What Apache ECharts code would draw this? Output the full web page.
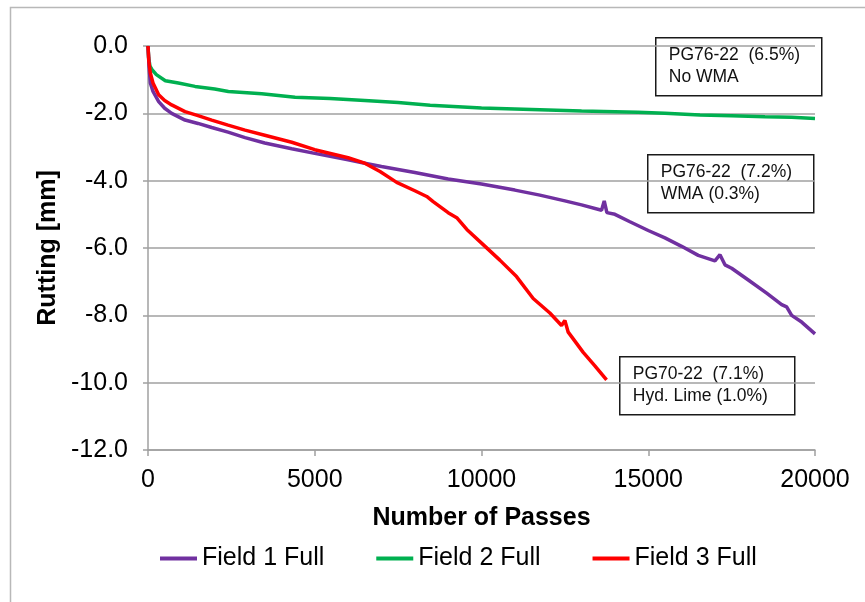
<!DOCTYPE html>
<html>
<head>
<meta charset="utf-8">
<title>Rutting vs Number of Passes</title>
<script src="https://cdn.jsdelivr.net/npm/echarts@6/dist/echarts.min.js"></script>
<style>
  html, body { margin: 0; padding: 0; background: #ffffff; }
  #chart { width: 865px; height: 602px; }
</style>
</head>
<body>
<div id="chart"></div>
<script>
// Rut depth (mm) recorded against wheel passes for three field mixes
const seriesNames = ['Field 1 Full', 'Field 2 Full', 'Field 3 Full'];

const field1Passes = [0, 30, 70, 150, 320, 500, 710, 1110, 1500, 1910, 2400, 2910, 3500, 4310, 5000, 6000, 6500, 7000, 8000, 9000, 10000, 11000, 11750, 12500, 13000, 13600, 13680, 13760, 14000, 14450, 15000, 15500, 16000, 16500, 17000, 17150, 17300, 17500, 18000, 18550, 19000, 19150, 19300, 19600, 20000];
const field1Rut = [0, -0.6, -1.1, -1.35, -1.65, -1.85, -2.0, -2.2, -2.3, -2.42, -2.56, -2.72, -2.88, -3.05, -3.19, -3.38, -3.48, -3.58, -3.76, -3.95, -4.1, -4.28, -4.43, -4.6, -4.72, -4.88, -4.6, -4.95, -5.0, -5.22, -5.48, -5.7, -5.95, -6.22, -6.38, -6.2, -6.5, -6.6, -6.95, -7.34, -7.68, -7.75, -8.0, -8.2, -8.55];

const field2Passes = [0, 20, 60, 120, 250, 520, 910, 1410, 2000, 2410, 3410, 4410, 5460, 6500, 7500, 8460, 10000, 11000, 12000, 13000, 14000, 14690, 15500, 16550, 17500, 18500, 19300, 20000];
const field2Rut = [0, -0.35, -0.6, -0.7, -0.85, -1.03, -1.1, -1.2, -1.28, -1.35, -1.42, -1.52, -1.56, -1.62, -1.68, -1.76, -1.84, -1.87, -1.9, -1.93, -1.95, -1.97, -2.0, -2.05, -2.07, -2.1, -2.12, -2.15];

const field3Passes = [0, 25, 70, 150, 320, 500, 710, 1110, 1500, 1910, 2400, 2910, 3500, 4310, 5000, 6000, 6500, 6957, 7457, 8000, 8357, 8550, 9000, 9257, 9560, 10050, 10550, 11050, 11550, 12050, 12400, 12500, 12600, 13050, 13400, 13750];
const field3Rut = [0, -0.45, -0.8, -1.1, -1.45, -1.62, -1.75, -1.95, -2.07, -2.2, -2.35, -2.5, -2.65, -2.86, -3.08, -3.32, -3.48, -3.73, -4.05, -4.3, -4.47, -4.62, -4.95, -5.1, -5.45, -5.9, -6.36, -6.85, -7.5, -7.93, -8.3, -8.15, -8.5, -9.1, -9.5, -9.92];

// Axis ranges and tick spacing
const xMin = 0, xMax = 20000, xStep = 5000;
const yMin = -12, yMax = 0, yStep = 2;

// Mix descriptions shown in the boxed notes
const noteField2 = ['PG76-22  (6.5%)', 'No WMA'];
const noteField1 = ['PG76-22  (7.2%)', 'WMA (0.3%)'];
const noteField3 = ['PG70-22  (7.1%)', 'Hyd. Lime (1.0%)'];

const colors = ['#7030a0', '#00b050', '#ff0000'];
const font = "'Liberation Sans', Arial, sans-serif";
const axisGray = '#a0a0a0';

function pairs(xs, ys) {
  return xs.map((x, i) => [x, ys[i]]);
}

function note(left, top, width, height, lines) {
  return {
    type: 'group',
    left: left,
    top: top,
    z: 100,
    children: [
      {
        type: 'rect',
        shape: { x: 0, y: 0, width: width, height: height },
        style: { fill: '#ffffff', stroke: '#1a1a1a', lineWidth: 1.5 }
      },
      {
        type: 'text',
        x: 13,
        y: 6,
        style: {
          text: lines.join('\n'),
          fill: '#111111',
          fontFamily: font,
          fontSize: 17.5,
          lineHeight: 22,
          verticalAlign: 'top'
        }
      }
    ]
  };
}

const chart = echarts.init(document.getElementById('chart'), null, { renderer: 'canvas' });

chart.setOption({
  animation: false,
  backgroundColor: '#ffffff',
  grid: { left: 148, right: 50, top: 46, bottom: 152, containLabel: false },
  xAxis: {
    type: 'value',
    min: xMin,
    max: xMax,
    interval: xStep,
    name: 'Number of Passes',
    nameLocation: 'middle',
    nameGap: 56,
    nameTextStyle: { fontFamily: font, fontSize: 25, fontWeight: 'bold', color: '#000' },
    axisLine: { show: true, onZero: false, lineStyle: { color: axisGray, width: 1.5 } },
    axisTick: { show: true, length: 6, lineStyle: { color: axisGray, width: 1.5 } },
    axisLabel: {
      fontFamily: font, fontSize: 25, color: '#000', margin: 18,
      formatter: v => String(v)
    },
    splitLine: { show: false }
  },
  yAxis: {
    type: 'value',
    min: yMin,
    max: yMax,
    interval: yStep,
    name: 'Rutting [mm]',
    nameLocation: 'middle',
    nameGap: 86,
    nameRotate: 90,
    nameTextStyle: { fontFamily: font, fontSize: 25, fontWeight: 'bold', color: '#000' },
    axisLine: { show: true, onZero: false, lineStyle: { color: axisGray, width: 1.5 } },
    axisTick: { show: true, length: 5, lineStyle: { color: axisGray, width: 1.5 } },
    axisLabel: {
      fontFamily: font, fontSize: 25, color: '#000', margin: 20,
      formatter: v => v.toFixed(1)
    },
    splitLine: { show: true, lineStyle: { color: axisGray, width: 1.5 } }
  },
  legend: {
    data: seriesNames,
    left: 155,
    top: 541,
    icon: 'rect',
    itemWidth: 37,
    itemHeight: 4,
    itemGap: 52,
    textStyle: { fontFamily: font, fontSize: 25, color: '#000' }
  },
  series: [
    {
      name: seriesNames[1], type: 'line', data: pairs(field2Passes, field2Rut),
      showSymbol: false, symbol: 'none', color: colors[1],
      lineStyle: { width: 3.5, color: colors[1] }, z: 2
    },
    {
      name: seriesNames[0], type: 'line', data: pairs(field1Passes, field1Rut),
      showSymbol: false, symbol: 'none', color: colors[0],
      lineStyle: { width: 3.5, color: colors[0] }, z: 3
    },
    {
      name: seriesNames[2], type: 'line', data: pairs(field3Passes, field3Rut),
      showSymbol: false, symbol: 'none', color: colors[2],
      lineStyle: { width: 3.5, color: colors[2] }, z: 4
    }
  ],
  graphic: [
    {
      type: 'rect',
      left: 8,
      top: 5,
      silent: true,
      shape: { x: 0, y: 0, width: 900, height: 700 },
      style: { fill: 'none', stroke: '#b8b8b8', lineWidth: 1.5 },
      z: -10
    },
    note(655, 37, 166, 58, noteField2),
    note(647, 154, 166, 58, noteField1),
    note(619, 356, 175, 58, noteField3)
  ]
});
</script>
</body>
</html>
